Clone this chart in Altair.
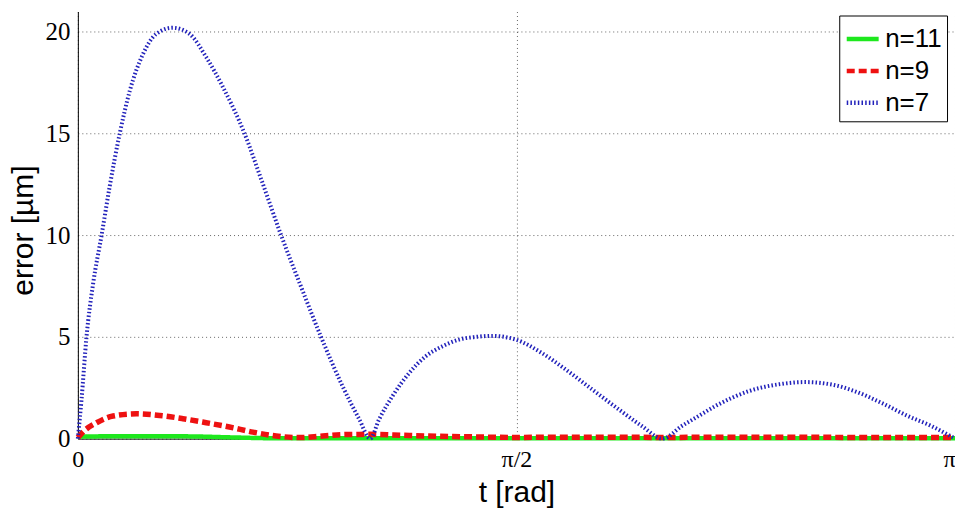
import altair as alt
import pandas as pd
import math

PI = math.pi

# n=7 series (blue, dotted)
t_n7 = [0.000, 0.013, 0.031, 0.055, 0.085, 0.114, 0.150, 0.186, 0.233, 0.281, 0.340,
        0.400, 0.460, 0.519, 0.597, 0.662, 0.728, 0.799, 0.871, 0.948, 1.008, 1.047,
        1.079, 1.127, 1.187, 1.246, 1.306, 1.365, 1.425, 1.484, 1.568, 1.663, 1.747,
        1.842, 1.937, 2.020, 2.094,
        2.163, 2.223, 2.283, 2.342, 2.402, 2.461, 2.521, 2.604, 2.700, 2.783, 2.878,
        2.973, 3.057, 3.1416]
e_n7 = [0.0, 1.9, 5.0, 7.65, 10.0, 12.4, 15.0, 17.1, 18.9, 19.9, 20.2,
        19.9, 18.75, 17.3, 15.0, 12.55, 10.0, 7.48, 5.0, 2.58, 0.95, 0.0,
        0.95, 2.09, 3.23, 4.05, 4.54, 4.87, 5.0, 5.05, 4.87, 4.2, 3.4,
        2.42, 1.44, 0.62, 0.0,
        0.62, 1.11, 1.6, 2.0, 2.33, 2.55, 2.69, 2.78, 2.66, 2.33, 1.76,
        1.11, 0.62, 0.0]

# n=9 series (red, dashed)
t_n9 = [0.000, 0.020, 0.067, 0.126, 0.210, 0.293, 0.376, 0.460, 0.543, 0.627, 0.710,
        0.793, 0.877, 0.960, 1.046, 1.130, 1.250, 1.400, 1.570, 1.800, 2.100, 2.400,
        2.800, 3.1416]
e_n9 = [0.05, 0.35, 0.78, 1.11, 1.22, 1.14, 0.98, 0.78, 0.57, 0.32, 0.13,
        0.05, 0.13, 0.20, 0.21, 0.18, 0.13, 0.09, 0.06, 0.07, 0.06, 0.07,
        0.06, 0.06]

# n=11 series (green, solid)
t_n11 = [0.000, 0.200, 0.400, 0.550, 0.700, 1.000, 1.570, 2.100, 3.1416]
e_n11 = [0.10, 0.12, 0.11, 0.06, 0.02, 0.02, 0.02, 0.02, 0.02]

series = ["n=11", "n=9", "n=7"]
colors = ["#1ee81e", "#ee1111", "#2222bb"]
dashes = [[1, 0], [8, 4], [1.5, 2.2]]
widths = [4.5, 5.5, 4]

x_ticks = [0, PI / 2, PI]
y_ticks = [0, 5, 10, 15, 20]

frames = []
for name, ts, es in [("n=11", t_n11, e_n11), ("n=9", t_n9, e_n9), ("n=7", t_n7, e_n7)]:
    frames.append(pd.DataFrame({"t": ts, "e": es, "s": name, "k": range(len(ts))}))
df = pd.concat(frames, ignore_index=True)

xenc = alt.X("t:Q", scale=alt.Scale(domain=[0, PI], nice=False, zero=False),
             axis=alt.Axis(values=x_ticks, title="t [rad]",
                           labelExpr="datum.value < 0.1 ? '0' : (datum.value < 2 ? 'π/2' : 'π')",
                           labelAlign={"expr": "datum.value > 3 ? 'right' : 'center'"},
                           labelFont="Liberation Serif", labelFontSize=24, labelColor="#000",
                           labelPadding=9, tickSize=0, labelFlush=False,
                           titleFont="Liberation Sans", titleFontSize=30, titleFontWeight="normal",
                           titleColor="#000", titleY=54, titleBaseline="middle",
                           domainColor="#000", domainWidth=1,
                           grid=True, gridColor="#000", gridDash=[1, 3], gridOpacity=0.6))
yenc = alt.Y("e:Q", scale=alt.Scale(domain=[0, 21], nice=False),
             axis=alt.Axis(values=y_ticks, title="error [µm]",
                           labelFont="Liberation Serif", labelFontSize=25, labelColor="#000",
                           labelPadding=8, tickSize=0,
                           titleFont="Liberation Sans", titleFontSize=30, titleFontWeight="normal",
                           titleColor="#000", titleX=-54, titleY=219, titleBaseline="middle",
                           domainColor="#000", domainWidth=1,
                           grid=True, gridColor="#000", gridDash=[1, 3], gridOpacity=0.6))

legend_opts = dict(title=None, orient="none", legendX=763, legendY=4,
                   strokeColor="#000", fillColor="#fff", padding=5,
                   symbolType="stroke", symbolSize=1024, symbolStrokeWidth=4.5,
                   labelFont="Liberation Sans", labelFontSize=26,
                   labelColor="#000", labelOffset=4, rowPadding=0,
                   labelLimit=200)
color = alt.Color("s:N", scale=alt.Scale(domain=series, range=colors),
                  legend=alt.Legend(**legend_opts))
dash = alt.StrokeDash("s:N", scale=alt.Scale(domain=series, range=dashes),
                      legend=alt.Legend(**legend_opts))

layers = []
for name, w in zip(series, widths):
    layers.append(
        alt.Chart(df).transform_filter(alt.datum.s == name)
        .mark_line(strokeWidth=w, interpolate="monotone", clip=False)
        .encode(x=xenc, y=yenc, color=color, strokeDash=dash, order="k:Q")
    )

chart = alt.layer(*layers).properties(
    width=879, height=428,
    autosize=alt.AutoSizeParams(type="none"),
    padding={"left": 70, "top": 3, "right": 0, "bottom": 70},
    background="#ffffff",
).configure_view(stroke=None)

chart.save("out.html", embed_options={"renderer": "svg", "actions": False})
